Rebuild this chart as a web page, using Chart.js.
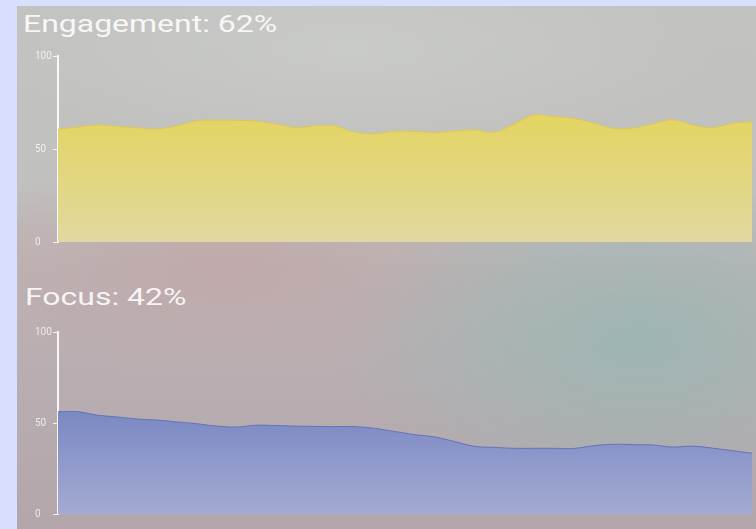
<!DOCTYPE html>
<html>
<head>
<meta charset="utf-8">
<script src="https://cdn.jsdelivr.net/npm/chart.js@4"></script>
<style>
  html, body { margin: 0; padding: 0; }
  body { width: 756px; height: 529px; background: #d8dffd; overflow: hidden; position: relative; }
  #panel {
    position: absolute; left: 17px; top: 6px; width: 739px; height: 523px; overflow: hidden;
    background:
      radial-gradient(ellipse 40% 32% at 84% 64%, rgba(156,182,180,0.95), rgba(156,182,180,0) 100%),
      radial-gradient(ellipse 45% 22% at 28% 50%, rgba(194,164,166,0.7), rgba(194,164,166,0) 100%),
      radial-gradient(ellipse 50% 20% at 45% 8%, rgba(204,206,202,0.7), rgba(204,206,202,0) 100%),
      linear-gradient(to bottom, #c2c3c1 0%, #c0c1bf 35%, #bcb5b5 50%, #b8aeb1 70%, #b3a6ab 100%);
  }
  .title {
    position: absolute; font-family: Roboto, "Liberation Sans", sans-serif; font-size: 23px; line-height: 23px;
    color: rgba(255,255,255,0.88); white-space: nowrap; transform: scaleX(1.39); transform-origin: left top;
  }
  canvas { position: absolute; left: 0; }
</style>
</head>
<body>
<div id="panel">
  <div class="title" id="title-engagement" style="left:6px; top:7px;">Engagement: 62%</div>
  <canvas id="chart-engagement" width="739" height="204" style="top:40px;"></canvas>
  <div class="title" id="title-focus" style="left:8px; top:280px;">Focus: 42%</div>
  <canvas id="chart-focus" width="739" height="200" style="top:316px;"></canvas>
</div>
<script>
// sample points along the session (evenly spaced)
const timeLabels = ['t1','t2','t3','t4','t5','t6','t7','t8','t9','t10','t11','t12',
  't13','t14','t15','t16','t17','t18','t19','t20','t21','t22','t23','t24',
  't25','t26','t27','t28','t29','t30','t31','t32','t33','t34','t35','t36'];

const engagementValues = [60.6, 61.8, 62.9, 62.2, 61.5, 60.8, 62.5, 65.2, 65.5, 65.4, 65.0, 63.5,
  61.6, 62.5, 62.3, 59.0, 58.3, 59.6, 59.5, 58.9, 59.8, 60.3, 59.1, 63.5,
  68.3, 67.5, 66.5, 64.0, 61.1, 61.3, 63.5, 65.7, 63.0, 61.5, 63.8, 64.7];

const focusValues = [56.2, 56.2, 54.3, 53.3, 52.2, 51.6, 50.6, 49.6, 48.3, 47.8, 48.8, 48.6,
  48.3, 48.1, 48.0, 48.0, 47.0, 45.3, 43.6, 42.3, 39.8, 37.2, 36.6, 36.1,
  36.1, 36.1, 36.0, 37.5, 38.3, 38.1, 37.9, 36.8, 37.3, 36.2, 34.8, 33.4];

const yTicks = [0, 50, 100];

Chart.defaults.font.family = 'Roboto, "Liberation Sans", sans-serif';

function makeGradient(topColor, bottomColor) {
    return (ctx) => {
        const area = ctx.chart.chartArea;
        if (!area) return topColor;
        const g = ctx.chart.ctx.createLinearGradient(0, area.top + (area.bottom - area.top) * 0.3, 0, area.bottom);
        g.addColorStop(0, topColor);
        g.addColorStop(1, bottomColor);
        return g;
    };
}

function buildChart(canvasId, values, topColor, bottomColor, edgeColor) {
    return new Chart(document.getElementById(canvasId).getContext('2d'), {
        type: 'line',
        data: {
            labels: timeLabels,
            datasets: [{
                data: values,
                fill: 'origin',
                backgroundColor: makeGradient(topColor, bottomColor),
                borderColor: edgeColor,
                borderWidth: 1,
                tension: 0.4,
                pointRadius: 0,
            }]
        },
        options: {
            responsive: false,
            devicePixelRatio: 1,
            animation: false,
            layout: { padding: { top: 10, bottom: 8, left: 18, right: 4 } },
            plugins: { legend: { display: false }, tooltip: { enabled: false } },
            scales: {
                x: { display: false, offset: false },
                y: {
                    min: 0, max: 100,
                    afterFit: (scale) => { scale.width = 23; },
                    afterBuildTicks: (scale) => { scale.ticks = yTicks.map(v => ({ value: v })); },
                    border: { display: true, color: 'rgba(255,255,255,0.9)', width: 2 },
                    grid: { display: true, drawOnChartArea: false, tickLength: 5, color: 'rgba(255,255,255,0.85)', lineWidth: 1 },
                    ticks: { color: 'rgba(255,255,255,0.75)', font: { size: 10 }, padding: 1, crossAlign: 'far' }
                }
            }
        }
    });
}

buildChart('chart-engagement', engagementValues, 'rgba(228,212,96,1)', 'rgba(224,216,160,1)', 'rgba(215,200,90,1)');
buildChart('chart-focus', focusValues, 'rgba(112,128,192,1)', 'rgba(164,170,210,1)', 'rgba(100,116,182,1)');
</script>
</body>
</html>
